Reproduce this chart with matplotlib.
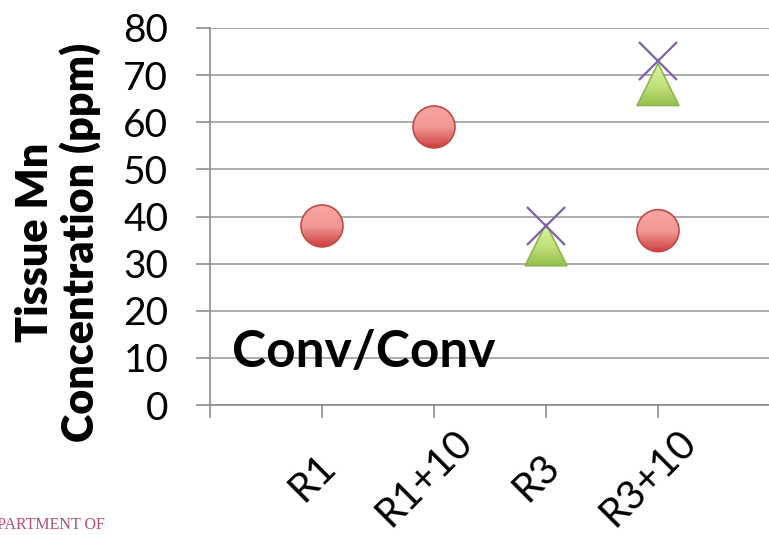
import numpy as np
import matplotlib.pyplot as plt
import matplotlib.transforms as mtransforms
from matplotlib.patches import Circle, Polygon
from matplotlib.colors import LinearSegmentedColormap

plt.rcParams['font.family'] = ['Lato', 'DejaVu Sans']

categories = ['R1', 'R1+10', 'R3', 'R3+10']
red_circles = [38, 59, np.nan, 37]
green_triangles = [np.nan, np.nan, 34, 68]
purple_crosses = [np.nan, np.nan, 38, 73]
yticks = [0, 10, 20, 30, 40, 50, 60, 70, 80]

fig = plt.figure(figsize=(7.69, 5.35), dpi=100)
ax = fig.add_axes([210 / 769, 1 - 405 / 535, 560 / 769, 377 / 535])
ax.set_xlim(0, 5)
ax.set_ylim(0, 80)

x = np.arange(1, len(categories) + 1)

red_cmap = LinearSegmentedColormap.from_list('red', ['#CC3F3D', '#F09896', '#FAA5A3'])
green_cmap = LinearSegmentedColormap.from_list('green', ['#94C04A', '#C2E27E', '#DAF5A2'])
grad = np.linspace(0, 1, 64).reshape(-1, 1)


def gradient_marker(xv, yv, shape, cmap, edge, z):
    # shape outline in inches around the data point, filled with a vertical gradient
    r = 0.21
    trans = fig.dpi_scale_trans + mtransforms.ScaledTranslation(xv, yv, ax.transData)
    if shape == 'circle':
        patch = Circle((0, 0), r, transform=trans)
    else:
        patch = Polygon([(0, r), (-r, -r), (r, -r)], closed=True, transform=trans)
    patch.set_facecolor('none')
    patch.set_edgecolor(edge)
    patch.set_linewidth(1.2)
    patch.set_zorder(z + 0.1)
    patch.set_clip_on(False)
    ax.add_patch(patch)
    px, py = ax.transData.transform((xv, yv))
    inv = ax.transData.inverted()
    x0, y0 = inv.transform((px - r * fig.dpi, py - r * fig.dpi))
    x1, y1 = inv.transform((px + r * fig.dpi, py + r * fig.dpi))
    im = ax.imshow(grad, cmap=cmap, extent=[x0, x1, y0, y1], origin='lower',
                   aspect='auto', zorder=z, interpolation='bilinear')
    im.set_clip_path(patch)


for xv, yv in zip(x, red_circles):
    if not np.isnan(yv):
        gradient_marker(xv, yv, 'circle', red_cmap, '#BE4B48', 3)
for xv, yv in zip(x, green_triangles):
    if not np.isnan(yv):
        gradient_marker(xv, yv, 'triangle', green_cmap, '#92B553', 4)
ax.plot(x, purple_crosses, 'x', ms=27, mec='#7E62A8', mew=1.6,
        zorder=5, clip_on=False)

ax.set_xlim(0, 5)
ax.set_ylim(0, 80)
ax.set_yticks(yticks)
ax.set_yticklabels([str(v) for v in yticks], fontsize=28)
ax.set_xticks(np.arange(0, len(categories) + 1))
ax.set_xticklabels([''] + categories, fontsize=29, rotation=45,
                   ha='center', va='center')

grey = '#8C8C8C'
ax.grid(axis='y', color='#A6A6A6', lw=1.3, zorder=0)
ax.set_axisbelow(True)
for side in ['top', 'right']:
    ax.spines[side].set_visible(False)
for side in ['left', 'bottom']:
    ax.spines[side].set_color(grey)
    ax.spines[side].set_linewidth(1.2)
ax.tick_params(axis='y', length=10, width=1.2, color=grey, pad=20)
ax.tick_params(axis='x', length=9.5, width=1.2, color=grey, pad=43)

shift = mtransforms.ScaledTranslation(-10 / 100, 0, fig.dpi_scale_trans)
for lbl in ax.get_xticklabels():
    lbl.set_transform(lbl.get_transform() + shift)

ax.text(0.2, 8.1, 'Conv/Conv', fontsize=37, fontweight='bold', va='baseline',
        zorder=6)

fig.text(58 / 769, 1 - 242 / 535, 'Tissue Mn\nConcentration (ppm)',
         rotation=90, ha='center', va='center', fontsize=31,
         fontweight='heavy', linespacing=1.1, multialignment='center')

fig.text(-24 / 769, 1 - 525 / 535, 'DEPARTMENT OF', fontsize=11.5,
         family='Liberation Serif', color='#B24E7C', va='center')

fig.savefig('out.png', dpi=100)
